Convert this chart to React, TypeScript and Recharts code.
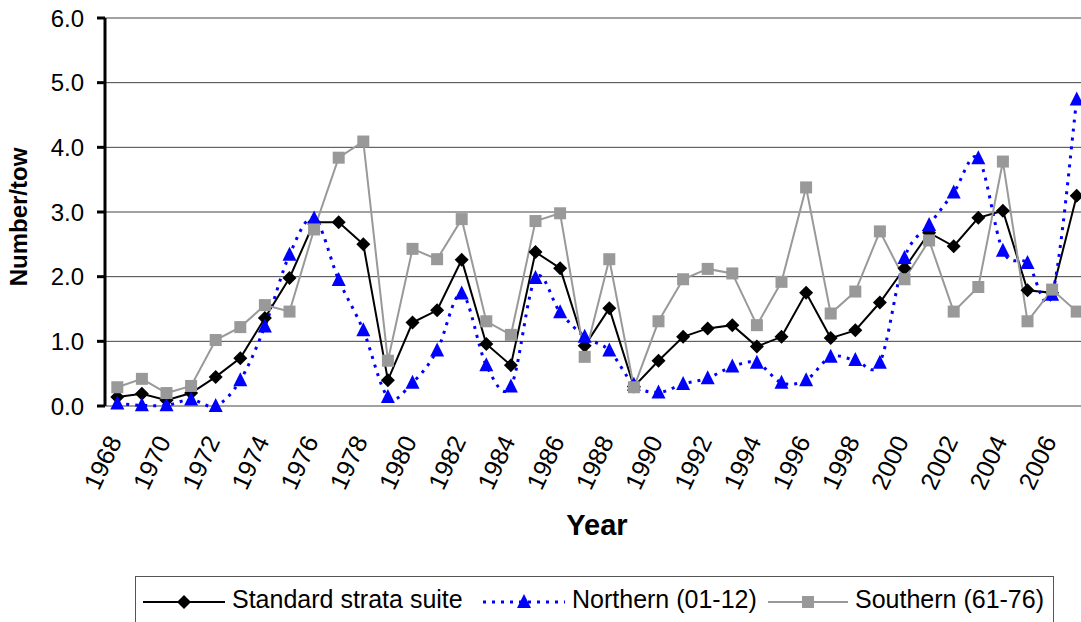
import { CartesianGrid, Line, LineChart, XAxis, YAxis } from "recharts";

const years = [
  1968, 1969, 1970, 1971, 1972, 1973, 1974, 1975, 1976, 1977, 1978, 1979, 1980,
  1981, 1982, 1983, 1984, 1985, 1986, 1987, 1988, 1989, 1990, 1991, 1992, 1993,
  1994, 1995, 1996, 1997, 1998, 1999, 2000, 2001, 2002, 2003, 2004, 2005, 2006, 2007
];

const standardSuite = [
  0.14, 0.19, 0.09, 0.2, 0.45, 0.74, 1.36, 1.98, 2.84, 2.84, 2.5, 0.4, 1.29,
  1.48, 2.26, 0.96, 0.63, 2.38, 2.13, 0.93, 1.51, 0.3, 0.7, 1.07, 1.2, 1.25,
  0.92, 1.07, 1.75, 1.05, 1.17, 1.6, 2.13, 2.68, 2.47, 2.91, 3.02, 1.79, 1.75, 3.25
];

const northern = [
  0.04, 0.01, 0.01, 0.1, 0.0, 0.4, 1.23, 2.34, 2.9, 1.95, 1.17, 0.14, 0.36,
  0.86, 1.74, 0.63, 0.3, 1.98, 1.45, 1.07, 0.86, 0.33, 0.21, 0.34, 0.43, 0.61,
  0.67, 0.36, 0.4, 0.76, 0.71, 0.67, 2.29, 2.8, 3.3, 3.83, 2.4, 2.21, 1.72, 4.74
];

const southern = [
  0.29, 0.42, 0.2, 0.31, 1.02, 1.22, 1.56, 1.46, 2.73, 3.84, 4.09, 0.7, 2.43,
  2.27, 2.89, 1.31, 1.1, 2.86, 2.98, 0.76, 2.27, 0.29, 1.31, 1.96, 2.12, 2.05,
  1.25, 1.92, 3.38, 1.43, 1.77, 2.7, 1.96, 2.56, 1.46, 1.84, 3.78, 1.31, 1.8, 1.46
];

const yTicks = [0, 1, 2, 3, 4, 5, 6];
const labelYears = years.filter((y) => y % 2 === 0);
const boundaryTicks = [...years.map((y) => y - 0.5), years[years.length - 1] + 0.5];

const data = years.map((year, i) => ({
  year,
  standard: standardSuite[i],
  northern: northern[i],
  southern: southern[i]
}));

const font = "'Liberation Sans', Arial, sans-serif";
const blue = "#0000ff";
const grey = "#999999";

// Excel-style smoothed line (Catmull-Rom through every point)
function smoothCurve(context: any) {
  let pts: number[][] = [];
  return {
    areaStart() {},
    areaEnd() {},
    lineStart() {
      pts = [];
    },
    lineEnd() {
      if (!pts.length) return;
      context.moveTo(pts[0][0], pts[0][1]);
      for (let i = 0; i < pts.length - 1; i++) {
        const p0 = pts[i - 1] || pts[i];
        const p1 = pts[i];
        const p2 = pts[i + 1];
        const p3 = pts[i + 2] || p2;
        context.bezierCurveTo(
          p1[0] + (p2[0] - p0[0]) / 6,
          p1[1] + (p2[1] - p0[1]) / 6,
          p2[0] - (p3[0] - p1[0]) / 6,
          p2[1] - (p3[1] - p1[1]) / 6,
          p2[0],
          p2[1]
        );
      }
    },
    point(x: number, y: number) {
      pts.push([+x, +y]);
    }
  };
}

function Diamond({ cx, cy, index }: any) {
  return <path key={index} d={`M${cx},${cy - 7}L${cx + 7},${cy}L${cx},${cy + 7}L${cx - 7},${cy}Z`} fill="#000" />;
}

function Triangle({ cx, cy, index }: any) {
  return <path key={index} d={`M${cx},${cy - 8}L${cx + 7},${cy + 6}L${cx - 7},${cy + 6}Z`} fill={blue} />;
}

function Square({ cx, cy, index }: any) {
  return <rect key={index} x={cx - 6} y={cy - 6} width={12} height={12} fill={grey} />;
}

function YearTick({ x, y, payload }: any) {
  return (
    <text
      transform={`translate(${x + 5},${y + 35}) rotate(-65)`}
      textAnchor="end"
      fontSize={25}
      fontFamily={font}
      fill="#000"
    >
      {payload.value}
    </text>
  );
}

function ValueTick({ x, y, payload }: any) {
  return (
    <text x={x - 13} y={y} dy="0.355em" textAnchor="end" fontSize={24} fontFamily={font} fill="#000">
      {Number(payload.value).toFixed(1)}
    </text>
  );
}

function Legend() {
  return (
    <svg width={1081} height={622} style={{ position: "absolute", left: 0, top: 0, pointerEvents: "none" }}>
      <rect x={135.5} y={576.5} width={918} height={60} fill="none" stroke="#555" strokeWidth={1} />
      <g fontFamily={font} fontSize={25} fill="#000">
        <line x1={143} x2={225} y1={602} y2={602} stroke="#000" strokeWidth={2} />
        <path d="M184,595L191,602L184,609L177,602Z" fill="#000" />
        <text x={232} y={608}>Standard strata suite</text>

        <line x1={483} x2={565} y1={602} y2={602} stroke={blue} strokeWidth={3} strokeDasharray="3 6" />
        <path d="M524,594L531,608L517,608Z" fill={blue} />
        <text x={572} y={608}>Northern (01-12)</text>

        <line x1={768} x2={848} y1={602} y2={602} stroke={grey} strokeWidth={2} />
        <rect x={802} y={596} width={12} height={12} fill={grey} />
        <text x={855} y={608}>Southern (61-76)</text>
      </g>
    </svg>
  );
}

export default function App() {
  return (
    <div
      style={{
        position: "absolute",
        left: 0,
        top: 0,
        width: 1081,
        height: 622,
        overflow: "hidden",
        background: "#fff"
      }}
    >
      <LineChart width={1089} height={622} data={data} margin={{ top: 18, right: 0, bottom: 0, left: 0 }}>
        <CartesianGrid vertical={false} stroke="#444" strokeWidth={1} />
        <XAxis
          dataKey="year"
          type="number"
          domain={[1967.5, 2007.5]}
          ticks={boundaryTicks}
          interval={0}
          height={0}
          tick={() => <g />}
          tickSize={8}
          axisLine={{ stroke: "#000", strokeWidth: 3 }}
          tickLine={{ stroke: "#000", strokeWidth: 3 }}
        />
        <XAxis
          xAxisId="labels"
          dataKey="year"
          type="number"
          domain={[1967.5, 2007.5]}
          ticks={labelYears}
          interval={0}
          height={216}
          tickSize={0}
          tickMargin={0}
          axisLine={false}
          tickLine={false}
          tick={YearTick}
          label={({ viewBox }: any) => (
            <text
              x={viewBox.x + viewBox.width / 2}
              y={viewBox.y + 129}
              textAnchor="middle"
              fontSize={29}
              fontWeight="bold"
              fontFamily={font}
              fill="#000"
            >
              Year
            </text>
          )}
        />
        <YAxis
          width={105}
          domain={[0, 6]}
          ticks={yTicks}
          interval={0}
          tickSize={8}
          tickMargin={0}
          tick={ValueTick}
          axisLine={{ stroke: "#000", strokeWidth: 3 }}
          tickLine={{ stroke: "#000", strokeWidth: 3 }}
          label={({ viewBox }: any) => (
            <text
              transform={`translate(${viewBox.x + 27},${viewBox.y + 199}) rotate(-90)`}
              textAnchor="middle"
              fontSize={24}
              fontWeight="bold"
              fontFamily={font}
              fill="#000"
            >
              Number/tow
            </text>
          )}
        />
        <Line
          dataKey="standard"
          type="linear"
          stroke="#000"
          strokeWidth={2}
          dot={Diamond}
          isAnimationActive={false}
        />
        <Line
          dataKey="northern"
          type={smoothCurve as any}
          stroke={blue}
          strokeWidth={3}
          strokeDasharray="3 6"
          dot={Triangle}
          isAnimationActive={false}
        />
        <Line
          dataKey="southern"
          type="linear"
          stroke={grey}
          strokeWidth={2}
          dot={Square}
          isAnimationActive={false}
        />
      </LineChart>
      <Legend />
    </div>
  );
}
